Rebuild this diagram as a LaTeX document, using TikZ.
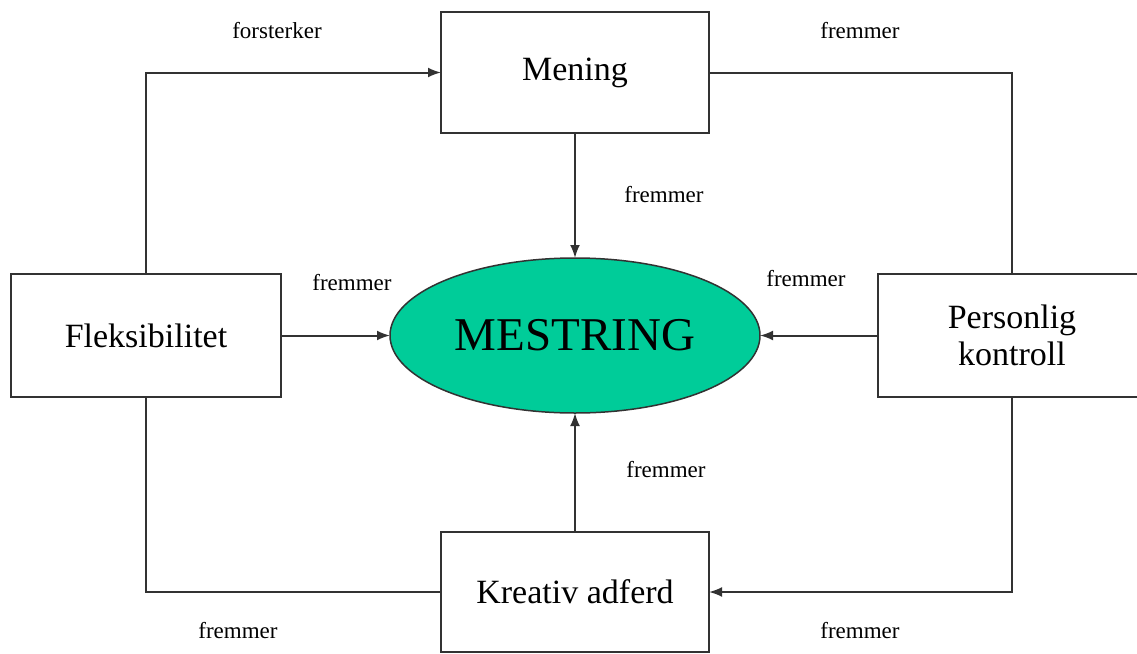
\documentclass[tikz,border=0pt]{standalone}
\usepackage{fontspec}
\setmainfont{Liberation Serif}
\usetikzlibrary{arrows.meta,shapes.geometric}
\definecolor{mgreen}{RGB}{0,204,153}
\definecolor{lcol}{RGB}{50,50,50}
\tikzset{
  box/.style={draw=lcol, line width=2pt, fill=white, minimum width=268pt, minimum height=121pt, inner sep=0pt, outer sep=0pt, align=center, font=\fontsize{34}{37}\selectfont},
  conn/.style={draw=lcol, line width=2pt},
  arr/.style={conn, -{Latex[length=13pt,width=10pt]}},
  lbl/.style={font=\fontsize{23}{26}\selectfont, inner sep=0pt}
}
\begin{document}
\begin{tikzpicture}[x=1pt,y=-1pt]
\clip (0,0) rectangle (1137,653);
\useasboundingbox (0,0) rectangle (1137,653);
\node[box] (mening) at (575,72.5) {\raisebox{-3pt}{Mening}};
\node[box, minimum width=270pt, minimum height=123pt] (flex) at (146,335.5) {Fleksibilitet};
\node[box, minimum height=123pt] (pk) at (1012,335.5) {Personlig\\kontroll};
\node[box, minimum height=120pt] (kreativ) at (575,592) {Kreativ adferd};
\node[draw=lcol, line width=1.5pt, fill=mgreen, ellipse, minimum width=370pt, minimum height=155pt, inner sep=0pt, outer sep=0pt, font=\fontsize{47}{50}\selectfont] (m) at (575,335.5) {MESTRING};

\draw[arr] (flex.north) |- (mening.west);
\draw[conn] (mening.east) -| (pk.north);
\draw[arr] (mening.south) -- (m.north);
\draw[arr] (flex.east) -- (m.west);
\draw[arr] (pk.west) -- (m.east);
\draw[arr] (kreativ.north) -- (m.south);
\draw[conn] (flex.south) |- (kreativ.west);
\draw[arr] (pk.south) |- (kreativ.east);

\node[lbl] (l1) at (277,31) {forsterker};
\node[lbl] (l2) at (860,31) {fremmer};
\node[lbl] (l3) at (664,195) {fremmer};
\node[lbl] (l4) at (352,283) {fremmer};
\node[lbl] (l5) at (806,279) {fremmer};
\node[lbl] (l6) at (666,470) {fremmer};
\node[lbl] (l7) at (238,631) {fremmer};
\node[lbl] (l8) at (860,631) {fremmer};
\end{tikzpicture}
\end{document}
